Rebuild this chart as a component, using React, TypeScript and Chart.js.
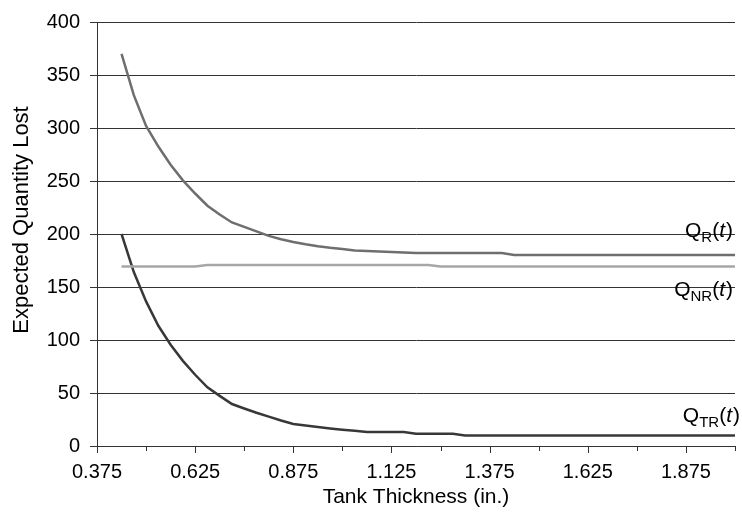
import React, { useEffect, useRef } from 'react';
import { Chart, registerables } from 'chart.js';

Chart.register(...registerables);

// Tank thickness (in.)
const thickness = [
  0.4375, 0.46875, 0.5, 0.53125, 0.5625, 0.59375, 0.625, 0.65625, 0.6875, 0.71875,
  0.75, 0.78125, 0.8125, 0.84375, 0.875, 0.90625, 0.9375, 0.96875, 1.0, 1.03125,
  1.0625, 1.09375, 1.125, 1.15625, 1.1875, 1.21875, 1.25, 1.28125, 1.3125, 1.34375,
  1.375, 1.40625, 1.4375, 1.46875, 1.5, 1.53125, 1.5625, 1.59375, 1.625, 1.65625,
  1.6875, 1.71875, 1.75, 1.78125, 1.8125, 1.84375, 1.875, 1.90625, 1.9375, 1.96875,
  2.0,
];

// Q_R(t)
const qR = [
  370, 331, 302, 282.5, 265.4, 250.6, 238.2, 226.7, 218.4, 210.9,
  206.7, 202.5, 198.2, 195, 192.5, 190.3, 188.5, 187, 185.8, 184.5,
  184, 183.5, 183, 182.5, 182, 182, 182, 182, 182, 182,
  182, 182, 180.3, 180.3, 180.3, 180.3, 180.3, 180.3, 180.3, 180.3,
  180.3, 180.3, 180.3, 180.3, 180.3, 180.3, 180.3, 180.3, 180.3, 180.3,
  180.3,
];

// Q_NR(t)
const qNR = [
  169.3, 169.3, 169.3, 169.3, 169.3, 169.3, 169.3, 170.8, 170.8, 170.8,
  170.8, 170.8, 170.8, 170.8, 170.8, 170.8, 170.8, 170.8, 170.8, 170.8,
  170.8, 170.8, 170.8, 170.8, 170.8, 170.8, 169.3, 169.3, 169.3, 169.3,
  169.3, 169.3, 169.3, 169.3, 169.3, 169.3, 169.3, 169.3, 169.3, 169.3,
  169.3, 169.3, 169.3, 169.3, 169.3, 169.3, 169.3, 169.3, 169.3, 169.3,
  169.3,
];

// Q_TR(t)
const qTR = [
  200, 164.1, 136.4, 113.4, 95.5, 80.3, 67.2, 55.3, 47.3, 39.6,
  35.4, 31.4, 27.7, 24, 20.8, 19.3, 17.9, 16.5, 15.3, 14.3,
  13.3, 13.1, 13.1, 13.1, 11.5, 11.5, 11.5, 11.5, 10, 10,
  10, 10, 10, 10, 10, 10, 10, 10, 10, 10,
  10, 10, 10, 10, 10, 10, 10, 10, 10, 10,
  10,
];

const xTickLabels = ['0.375', '0.625', '0.875', '1.125', '1.375', '1.625', '1.875'];
const yTitle = 'Expected Quantity Lost';
const xTitle = 'Tank Thickness (in.)';
const seriesLabels = [
  { main: 'Q', sub: 'R' },
  { main: 'Q', sub: 'NR' },
  { main: 'Q', sub: 'TR' },
];

const FONT = '"Liberation Sans", Arial, sans-serif';

const toPoints = (ys: number[]) => thickness.map((x, i) => ({ x, y: ys[i] }));

function drawQLabel(ctx: CanvasRenderingContext2D, main: string, sub: string, rightX: number, baseline: number, size: number) {
  const subSize = Math.round(size * 0.72);
  ctx.save();
  ctx.fillStyle = '#000';
  ctx.textBaseline = 'alphabetic';
  ctx.textAlign = 'left';
  const fMain = `${size}px ${FONT}`;
  const fSub = `${subSize}px ${FONT}`;
  const fItal = `italic ${size}px ${FONT}`;
  ctx.font = fMain;
  const wQ = ctx.measureText(main).width;
  const wP = ctx.measureText('(').width;
  const wC = ctx.measureText(')').width;
  ctx.font = fSub;
  const wS = ctx.measureText(sub).width;
  ctx.font = fItal;
  const wT = ctx.measureText('t').width;
  let x = rightX - (wQ + wS + wP + wT + wC + 1);
  ctx.font = fMain;
  ctx.fillText(main, x, baseline);
  x += wQ;
  ctx.font = fSub;
  ctx.fillText(sub, x, baseline + size * 0.25);
  x += wS;
  ctx.font = fMain;
  ctx.fillText('(', x, baseline);
  x += wP;
  ctx.font = fItal;
  ctx.fillText('t', x, baseline);
  x += wT + 1;
  ctx.font = fMain;
  ctx.fillText(')', x, baseline);
  ctx.restore();
}

const decorPlugin = {
  id: 'decor',
  afterDraw(chart: any) {
    const ctx: CanvasRenderingContext2D = chart.ctx;
    const xs = chart.scales.x;
    const area = chart.chartArea;
    // x tick marks (major where labelled, minor otherwise)
    ctx.save();
    ctx.strokeStyle = '#333';
    ctx.lineWidth = 1;
    xs.ticks.forEach((t: any) => {
      const px = Math.round(xs.getPixelForValue(t.value)) + 0.5;
      const lbl = t.value.toFixed(3);
      const len = xTickLabels.includes(lbl) ? 7 : 5;
      ctx.beginPath();
      ctx.moveTo(px, area.bottom);
      ctx.lineTo(px, area.bottom + len);
      ctx.stroke();
    });
    ctx.restore();

    // axis titles
    ctx.save();
    ctx.fillStyle = '#000';
    ctx.textAlign = 'center';
    ctx.textBaseline = 'middle';
    ctx.font = `21px ${FONT}`;
    ctx.fillText(xTitle, (area.left + area.right) / 2, 497);
    ctx.font = `22px ${FONT}`;
    ctx.translate(22, 220);
    ctx.rotate(-Math.PI / 2);
    ctx.fillText(yTitle, 0, 0);
    ctx.restore();

    // series labels
    drawQLabel(ctx, seriesLabels[0].main, seriesLabels[0].sub, 733, 237, 21);
    drawQLabel(ctx, seriesLabels[1].main, seriesLabels[1].sub, 733, 296, 21);
    drawQLabel(ctx, seriesLabels[2].main, seriesLabels[2].sub, 740, 422, 21);
  },
};

export default function App() {
  const ref = useRef<HTMLCanvasElement | null>(null);
  useEffect(() => {
    if (!ref.current) return;
    const chart = new Chart(ref.current, {
      type: 'line',
      data: {
        datasets: [
          { label: 'QNR', data: toPoints(qNR), borderColor: '#a6a6a6', borderWidth: 2.5, pointRadius: 0, tension: 0, fill: false },
          { label: 'QR', data: toPoints(qR), borderColor: '#6e6e6e', borderWidth: 2.5, pointRadius: 0, tension: 0, fill: false },
          { label: 'QTR', data: toPoints(qTR), borderColor: '#383838', borderWidth: 2.5, pointRadius: 0, tension: 0, fill: false },
        ],
      },
      options: {
        animation: false,
        responsive: false,
        devicePixelRatio: 1,
        layout: { padding: { top: 19, right: 0, left: 0, bottom: 0 } },
        plugins: { legend: { display: false }, tooltip: { enabled: false } },
        scales: {
          x: {
            type: 'linear',
            min: 0.375,
            max: 2.0,
            afterFit: (s: any) => { s.height = 73; },
            ticks: {
              stepSize: 0.125,
              autoSkip: false,
              maxRotation: 0,
              padding: 7,
              color: '#000',
              font: { family: FONT, size: 20 },
              callback: (v: any) => {
                const s = Number(v).toFixed(3);
                return xTickLabels.includes(s) ? s : '';
              },
            },
            grid: { display: true, drawOnChartArea: false, drawTicks: true, tickLength: 7, color: 'rgba(0,0,0,0)' },
            border: { display: true, color: '#333', width: 1 },
          },
          y: {
            min: 0,
            max: 400,
            afterFit: (s: any) => { s.width = 97; },
            ticks: {
              stepSize: 50,
              padding: 10,
              color: '#000',
              font: { family: FONT, size: 20 },
            },
            grid: { color: '#333', lineWidth: 1, tickLength: 7, drawTicks: true },
            border: { display: true, color: '#333', width: 1 },
          },
        },
      },
      plugins: [decorPlugin],
    });
    return () => chart.destroy();
  }, []);
  return (
    <div style={{ position: 'absolute', left: 0, top: 0, width: 742, height: 519, background: '#fff' }}>
      <canvas ref={ref} width={742} height={519} style={{ width: 742, height: 519, display: 'block' }} />
    </div>
  );
}
